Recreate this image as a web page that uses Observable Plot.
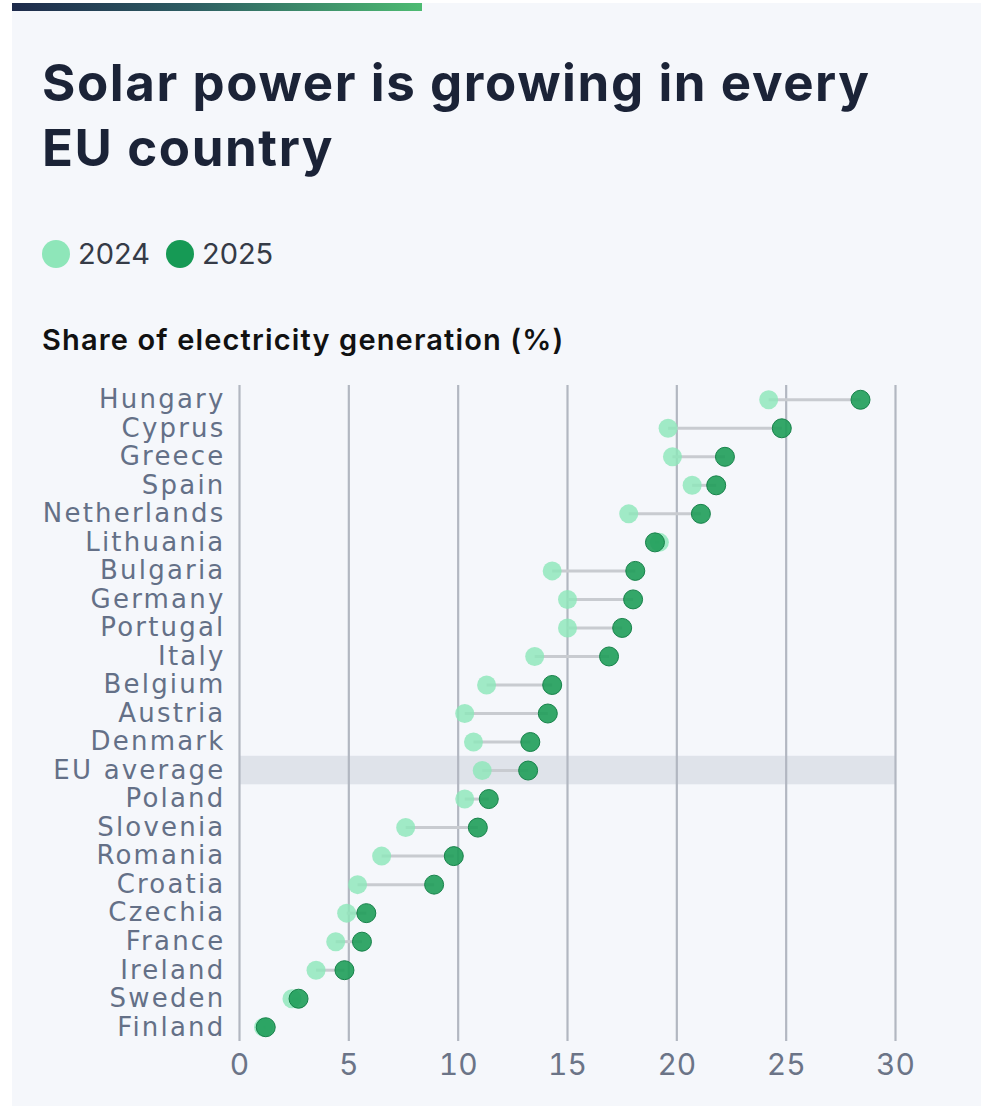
<!DOCTYPE html>
<html>
<head>
<meta charset="utf-8">
<script src="https://cdn.jsdelivr.net/npm/d3@7"></script>
<script src="https://cdn.jsdelivr.net/npm/@observablehq/plot@0.6"></script>
<style>
  html, body { margin: 0; padding: 0; background: #ffffff; }
  body { width: 990px; height: 1106px; position: relative; overflow: hidden; font-family: Inter, "Noto Sans", sans-serif; }
  #card { position: absolute; left: 12px; top: 3px; width: 969px; height: 1103px; background: #f5f7fb; }
  #bar { position: absolute; left: 12px; top: 3px; width: 410px; height: 8px;
         background: linear-gradient(90deg, #1d2a4b 0%, #2e5f63 45%, #4dbb72 100%); }
  #title { position: absolute; left: 42px; top: 50px; margin: 0; font-size: 51px; line-height: 65px;
           font-weight: 700; color: #1b2337; letter-spacing: 1.6px; }
  #legend { position: absolute; left: 42px; top: 236px; display: flex; align-items: center;
            font-size: 29px; color: #353b47; }
  .sw { width: 28px; height: 28px; border-radius: 50%; display: inline-block; margin-right: 8px; }
  .item { display: flex; align-items: center; margin-right: 16px; }
  #subtitle { position: absolute; left: 42px; top: 322px; margin: 0; font-size: 29px; font-weight: 600;
              color: #111111; letter-spacing: 1.15px; }
  #chart { position: absolute; left: 12px; top: 370px; }
  #chart g[aria-label="y-axis tick label"] text { letter-spacing: 2.2px; }
</style>
</head>
<body>
<div id="card"></div>
<div id="bar"></div>
<h1 id="title">Solar power is growing in every<br>EU country</h1>
<div id="legend">
  <span class="item"><span class="sw" style="background:#8ee6b9"></span>2024</span>
  <span class="item"><span class="sw" style="background:#169a55"></span>2025</span>
</div>
<p id="subtitle">Share of electricity generation (%)</p>
<div id="chart"></div>
<script>
// Solar share of electricity generation, % (2024 vs 2025)
const countries = ["Hungary", "Cyprus", "Greece", "Spain", "Netherlands", "Lithuania", "Bulgaria",
  "Germany", "Portugal", "Italy", "Belgium", "Austria", "Denmark", "EU average", "Poland",
  "Slovenia", "Romania", "Croatia", "Czechia", "France", "Ireland", "Sweden", "Finland"];
const share2024 = [24.2, 19.6, 19.8, 20.7, 17.8, 19.2, 14.3, 15.0, 15.0, 13.5, 11.3, 10.3, 10.7, 11.1,
  10.3, 7.6, 6.5, 5.4, 4.9, 4.4, 3.5, 2.4, 1.1];
const share2025 = [28.4, 24.8, 22.2, 21.8, 21.1, 19.0, 18.1, 18.0, 17.5, 16.9, 14.3, 14.1, 13.3, 13.2,
  11.4, 10.9, 9.8, 8.9, 5.8, 5.6, 4.8, 2.7, 1.2];
const xTicks = [0, 5, 10, 15, 20, 25, 30];
const highlight = "EU average";

const rows = countries.map((c, i) => ({country: c, v2024: share2024[i], v2025: share2025[i]}));

const chart = Plot.plot({
  width: 969,
  height: 736,
  marginLeft: 227,
  marginRight: 86,
  marginTop: 15,
  marginBottom: 65,
  style: {background: "transparent", overflow: "visible"},
  x: {domain: [0, 30], ticks: xTicks, label: null},
  y: {domain: countries, padding: 0, round: false, label: null},
  marks: [
    Plot.barX(rows.filter(d => d.country === highlight), {x1: 0, x2: 30, y: "country", fill: "#dfe3ea"}),
    Plot.ruleX(xTicks, {stroke: "#b2b7c1", strokeWidth: 2.2}),
    Plot.link(rows, {x1: "v2024", x2: "v2025", y1: "country", y2: "country", stroke: "#c8cbd0", strokeWidth: 3}),
    Plot.dot(rows, {x: "v2024", y: "country", r: 9.5, fill: "#8ee6b9", fillOpacity: 0.82}),
    Plot.dot(rows, {x: "v2025", y: "country", r: 9.5, fill: "#1f9d59", fillOpacity: 0.9, stroke: "#17824a", strokeWidth: 1}),
    Plot.axisY({tickSize: 0, tickPadding: 14, fontSize: 26, fill: "#647087", fontFamily: "DejaVu Sans, sans-serif"}),
    Plot.axisX({ticks: xTicks, tickSize: 0, tickPadding: 12, fontSize: 30, fill: "#6b7487", fontFamily: "Inter, sans-serif"})
  ]
});
document.getElementById("chart").appendChild(chart);
</script>
</body>
</html>
